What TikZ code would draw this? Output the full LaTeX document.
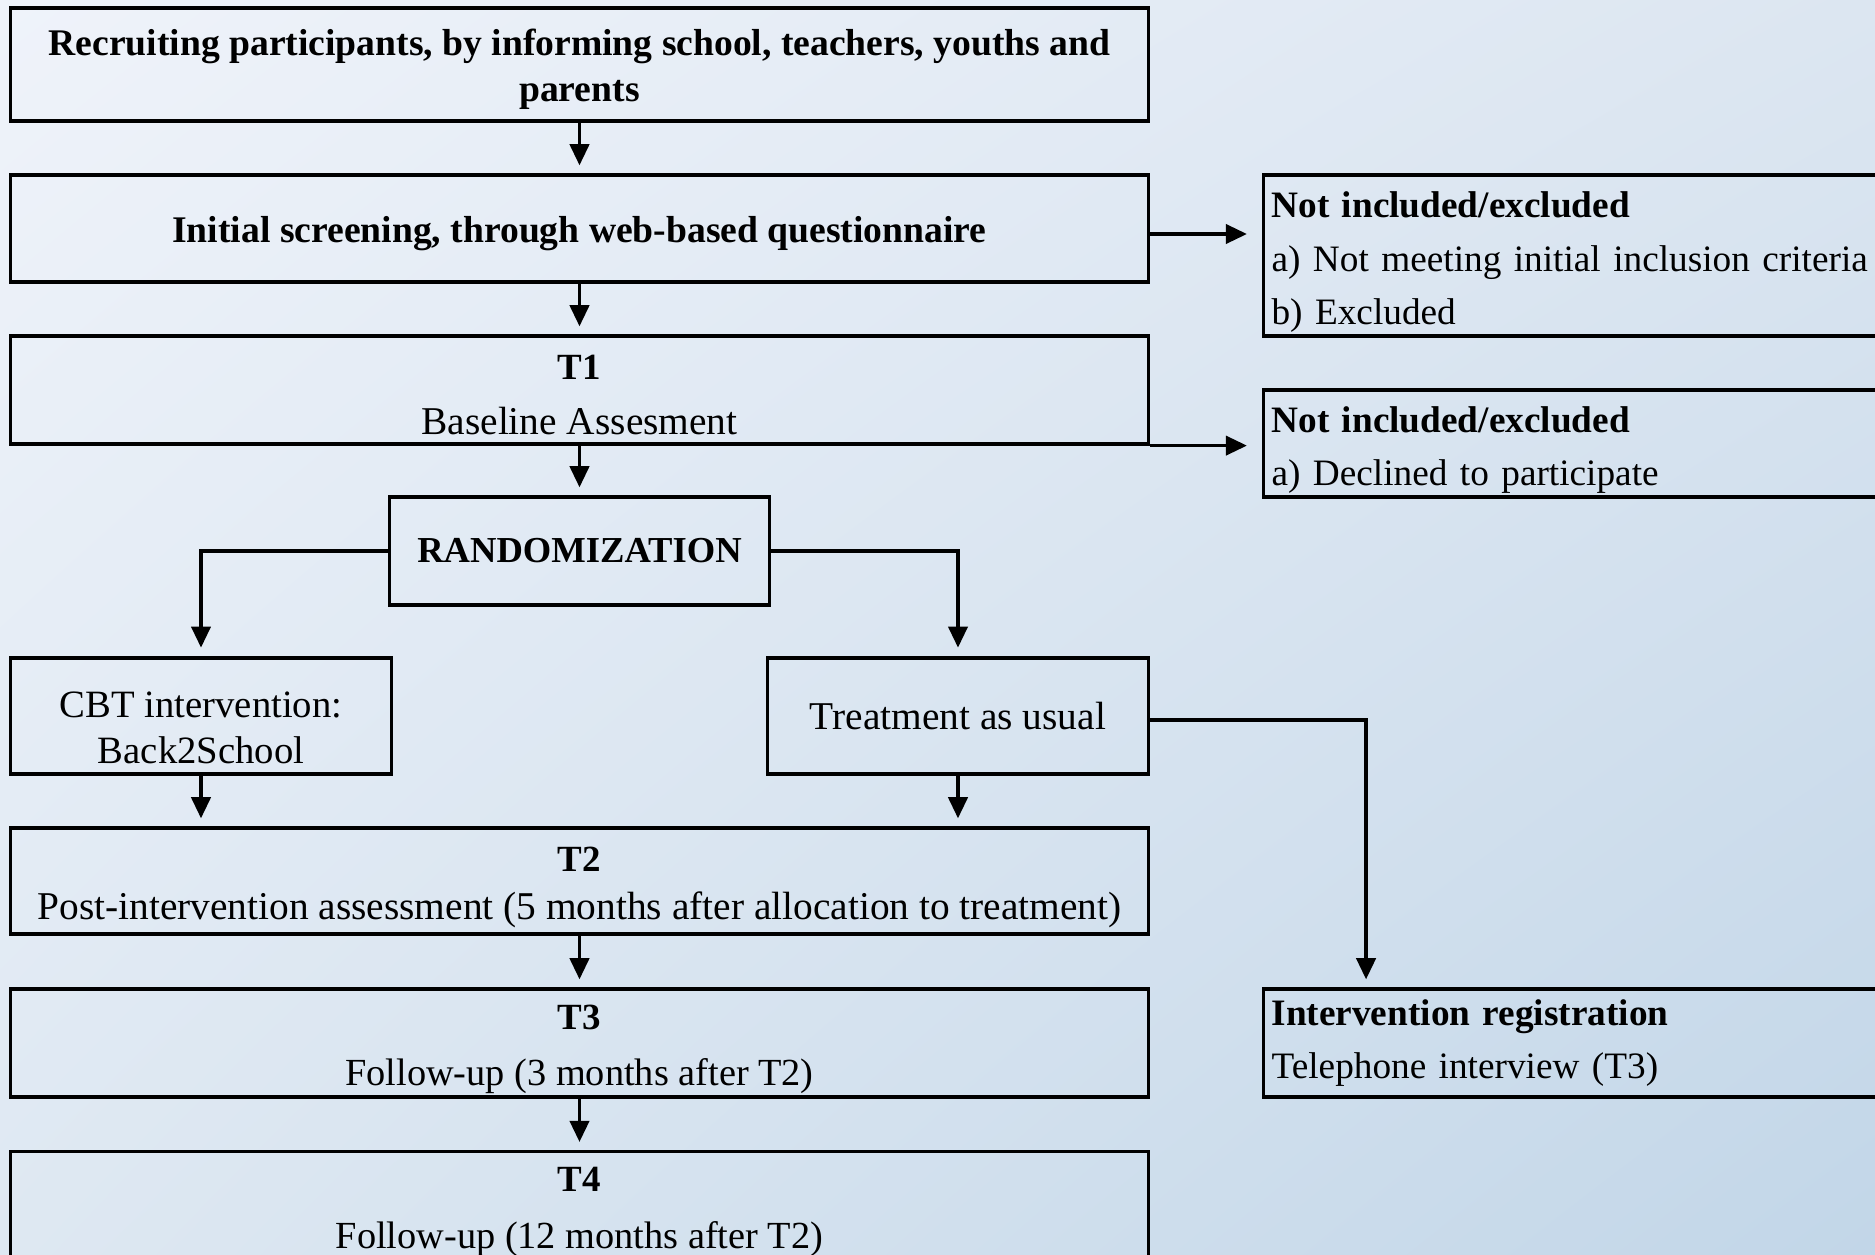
\documentclass[tikz,border=0pt]{standalone}
\usepackage{fontspec}
\setmainfont{Liberation Serif}
\usetikzlibrary{arrows.meta,positioning,calc,shadings}

\definecolor{bgTL}{HTML}{EFF3FA}
\definecolor{bgTR}{HTML}{DCE6F1}
\definecolor{bgBL}{HTML}{DEE8F2}
\definecolor{bgBR}{HTML}{C2D6E8}

% bold heading line, lowered a bit inside its box
\newcommand{\hd}[2]{\rule{0pt}{#1}{\fontsize{10.5}{13}\selectfont\bfseries #2}}

\begin{document}
\begin{tikzpicture}[x=0.01cm, y=-0.01cm,
    every node/.style={font=\fontsize{11.2}{13}\selectfont},
    mainbox/.style={draw, line width=0.9pt, minimum width=11.37cm, align=center, inner sep=0pt},
    halfbox/.style={draw, line width=0.9pt, minimum width=3.80cm, minimum height=1.16cm, align=center, inner sep=0pt},
    sidebox/.style={draw, line width=0.9pt, anchor=west, text width=6.6cm, align=left,
        inner xsep=0.08cm, inner ysep=0pt, font=\fontsize{10.6}{15.2}\selectfont},
    flow/.style={line width=0.9pt, -{Triangle[width=5.5pt,length=6pt]}}]

    \useasboundingbox (0,0) rectangle (1875,1254);
    \clip (0,0) rectangle (1875,1254);
    \shade[upper left=bgTL, upper right=bgTR, lower left=bgBL, lower right=bgBR]
        (0,0) rectangle (1875,1254);

    % ============================================================
    % MAIN COLUMN
    % ============================================================
    \node[mainbox, minimum height=1.13cm, font=\fontsize{10.7}{13}\selectfont\bfseries] (recruit) at (579.5,64.5)
        {\rule{0pt}{10.2pt}Recruiting participants, by informing school, teachers, youths and\\parents};
    \node[mainbox, minimum height=1.07cm, font=\fontsize{10.7}{13}\selectfont\bfseries] (screen) at (579.5,228.5)
        {\rule{0pt}{10.2pt}Initial screening, through web-based questionnaire};
    \node[mainbox, minimum height=1.08cm] (t1) at (579.5,390)
        {\hd{9.9pt}{T1}\\[2.5pt]Baseline Assesment};
    \node[draw, line width=0.9pt, minimum width=3.79cm, minimum height=1.08cm, inner sep=0pt,
        font=\fontsize{10.4}{13}\selectfont\bfseries] (rand) at (579.5,551) {RANDOMIZATION};

    % two arms
    \node[halfbox, font=\fontsize{11}{13}\selectfont] (cbt) at (201,716)
        {\rule{0pt}{14.2pt}CBT intervention:\\Back2School};
    \node[halfbox] (tau) at (958,716) {Treatment as usual};

    \node[mainbox, minimum height=1.06cm] (t2) at (579.5,881)
        {\hd{10.5pt}{T2}\\[0.8pt]Post-intervention assessment (5 months after allocation to treatment)};
    \node[mainbox, minimum height=1.08cm, font=\fontsize{10.9}{13}\selectfont] (t3) at (579.5,1043)
        {\hd{10.5pt}{T3}\\[3pt]Follow-up (3 months after T2)};
    \node[mainbox, minimum height=1.08cm, anchor=north, font=\fontsize{10.9}{13}\selectfont] (t4) at (579.5,1150)
        {\hd{10.5pt}{T4}\\[3pt]Follow-up (12 months after T2)};

    % ============================================================
    % SIDE BOXES
    % ============================================================
    \node[sidebox, minimum height=1.61cm] (excl1) at (1262,255.5)
        {\rule{0pt}{11.2pt}\textbf{Not included/excluded}\\a) Not meeting initial inclusion criteria\\b) Excluded};
    \node[sidebox, minimum height=1.07cm] (excl2) at (1262,443.5)
        {\rule{0pt}{11.2pt}\textbf{Not included/excluded}\\a) Declined to participate};
    \node[sidebox, minimum height=1.08cm] (reg) at (1262,1043)
        {\textbf{Intervention registration}\\Telephone interview (T3)};

    % ============================================================
    % CONNECTORS
    % ============================================================
    \draw[flow, shorten >=2.3pt] (recruit) -- (screen);
    \draw[flow, shorten >=2.3pt] (screen) -- (t1);
    \draw[flow, shorten >=2.3pt] (t1) -- (rand);
    \draw[flow, shorten >=2.5pt] (rand.west) -| (cbt.north);
    \draw[flow, shorten >=2.5pt] (rand.east) -| (tau.north);
    \draw[flow, shorten >=2.3pt] (cbt.south) -- (cbt.south |- t2.north);
    \draw[flow, shorten >=2.3pt] (tau.south) -- (tau.south |- t2.north);
    \draw[flow, shorten >=2.3pt] (t2) -- (t3);
    \draw[flow, shorten >=2.3pt] (t3) -- (t4);

    \draw[flow, shorten >=4.3pt] ([yshift=-0.055cm]screen.east) -- ([yshift=-0.055cm]screen.east -| excl1.west);
    \draw[flow, shorten >=4.3pt] (t1.south east) -- (t1.south east -| excl2.west);
    \draw[flow, shorten >=2.3pt] ([yshift=-0.04cm]tau.east) -| ([xshift=1.04cm]reg.north west);

\end{tikzpicture}
\end{document}
